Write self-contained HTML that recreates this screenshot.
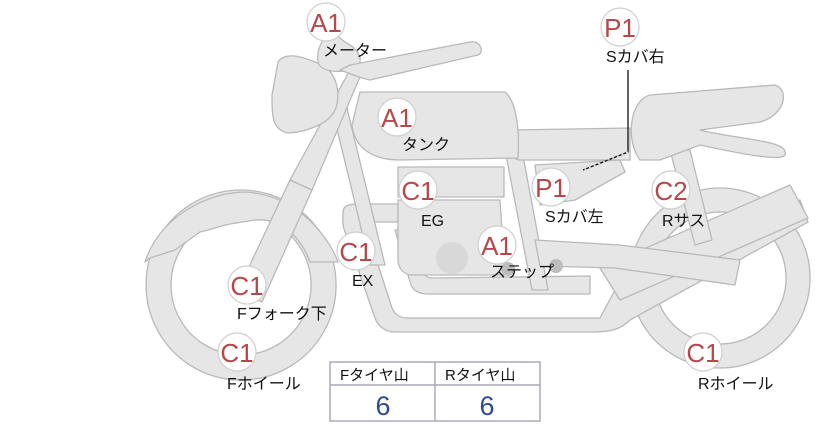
<!DOCTYPE html>
<html><head><meta charset="utf-8"><style>
body{margin:0;background:#fff;}
svg{display:block;font-family:"Liberation Sans","Noto Sans CJK JP",sans-serif;}
.s{fill:#e6e6e6;stroke:#b9b9bd;stroke-width:1.3;stroke-linejoin:round}
.c{fill:#fff;stroke:#cfcfcf;stroke-width:1.2}
.b{fill:#b8474a;font-size:26px;font-weight:300}
.l{fill:#111;font-size:16px}
</style></head><body>
<svg width="822" height="425" viewBox="0 0 822 425">
<path class="s" fill-rule="evenodd" d="M241,190a95,95 0 1,0 0.1,0z M241,215a70,70 0 1,0 0.1,0z"/>
<path class="s" d="M145,262 C160,215 210,192 245,192 C300,195 330,240 338,262 L310,262 C300,235 280,218 255,220 L230,224 C220,226 210,230 200,232 L175,250 L150,258z"/>
<path class="s" fill-rule="evenodd" d="M720,188a90,90 0 1,0 0.1,0z M720,212a66,66 0 1,0 0.1,0z"/>
<path class="s" d="M343,212 C343,205 350,204 360,204 L420,204 L420,222 L370,222 C362,222 365,232 370,240 L392,308 C395,315 400,318 408,318 L600,318 L615,290 L800,200 L808,222 L630,320 C620,330 610,332 590,332 L395,332 C385,332 378,326 375,318 L345,232 C342,225 343,218 343,212z"/>
<path class="s" d="M395,230 L410,282 C412,290 418,294 428,294 L590,294 L590,276 L432,278 C425,278 422,272 420,266 L410,230z"/>
<path class="s" d="M600,268 L790,185 L808,218 L620,300z"/>
<path class="s" d="M330,100 L345,100 L385,265 L370,265z"/>
<path class="s" d="M398,200 L500,200 L505,275 L412,275 C404,275 398,268 398,260z"/>
<rect class="s" x="398" y="167" width="106" height="30"/>
<circle cx="452" cy="258" r="16" fill="#d8d8d8"/>
<path class="s" d="M505,150 L522,150 L548,290 L532,290z"/>
<path class="s" d="M535,240 L620,245 L740,260 L735,285 L615,268 L540,266z"/>
<path class="s" d="M535,165 L620,160 L625,172 L575,200 L540,205z"/>
<path class="s" d="M670,150 L690,150 L712,240 L695,245z"/>
<path class="s" d="M512,130 L630,128 L630,160 L520,160 C512,160 510,150 512,130z"/>
<path class="s" d="M640,160 C625,140 630,100 650,95 L775,85 C790,90 785,115 760,122 L700,130 C740,140 790,140 785,155 C782,160 760,158 700,145 L660,160z"/>
<path class="s" d="M360,92 L505,92 C515,100 520,125 518,158 L400,160 C375,160 355,150 352,125z"/>
<path class="s" d="M290,180 L312,190 L262,302 L238,290z"/>
<path class="s" d="M350,70 L362,72 L312,190 L290,180z"/>
<path class="s" d="M278,62 C285,52 300,55 322,65 C340,75 340,100 335,110 C328,125 305,132 288,133 C272,130 272,115 272,95z"/>
<path class="s" d="M330,30 L345,42 C360,50 365,62 355,68 C340,74 320,72 318,62 C316,50 322,40 330,30z"/>
<path class="s" d="M340,70 L350,65 L470,42 C480,40 485,52 478,55 L370,80 L362,78z"/>
<circle cx="508" cy="269" r="7" fill="#bdbdbd"/>
<circle cx="556" cy="266" r="7" fill="#bdbdbd"/>
<path d="M628,70 L628,152 L583,170" fill="none" stroke="#111" stroke-width="1.3"/>
<path d="M628,152 L583,170" fill="none" stroke="#fff" stroke-width="1" stroke-dasharray="2,3"/>
<g>
<circle class="c" cx="326" cy="22" r="19"/><text class="b" x="326" y="32" text-anchor="middle">A1</text>
<circle class="c" cx="397" cy="117" r="19"/><text class="b" x="397" y="127" text-anchor="middle">A1</text>
<circle class="c" cx="418" cy="190" r="19"/><text class="b" x="418" y="200" text-anchor="middle">C1</text>
<circle class="c" cx="356" cy="251" r="19"/><text class="b" x="356" y="261" text-anchor="middle">C1</text>
<circle class="c" cx="497" cy="245" r="19"/><text class="b" x="497" y="255" text-anchor="middle">A1</text>
<circle class="c" cx="551" cy="187" r="19"/><text class="b" x="551" y="197" text-anchor="middle">P1</text>
<circle class="c" cx="620" cy="27" r="19"/><text class="b" x="620" y="37" text-anchor="middle">P1</text>
<circle class="c" cx="671" cy="190" r="19"/><text class="b" x="671" y="200" text-anchor="middle">C2</text>
<circle class="c" cx="247" cy="285" r="19"/><text class="b" x="247" y="295" text-anchor="middle">C1</text>
<circle class="c" cx="237" cy="352" r="19"/><text class="b" x="237" y="362" text-anchor="middle">C1</text>
<circle class="c" cx="703" cy="352" r="19"/><text class="b" x="703" y="362" text-anchor="middle">C1</text>
</g>
<g>
<text class="l" x="323" y="56">メーター</text>
<text class="l" x="402" y="150">タンク</text>
<text class="l" x="421" y="226">EG</text>
<text class="l" x="352" y="286">EX</text>
<text class="l" x="490" y="277">ステップ</text>
<text class="l" x="545" y="222">Sカバ左</text>
<text class="l" x="606" y="62">Sカバ右</text>
<text class="l" x="662" y="226">Rサス</text>
<text class="l" x="237" y="319">Fフォーク下</text>
<text class="l" x="227" y="389">Fホイール</text>
<text class="l" x="698" y="389">Rホイール</text>
</g>
<rect x="330" y="362" width="210" height="59" fill="#fff" stroke="#aab" stroke-width="1.5"/>
<line x1="330" y1="385" x2="540" y2="385" stroke="#aab" stroke-width="1.5"/>
<line x1="435" y1="362" x2="435" y2="421" stroke="#aab" stroke-width="1.5"/>
<text x="340" y="380" font-size="15" fill="#111">Fタイヤ山</text>
<text x="445" y="380" font-size="15" fill="#111">Rタイヤ山</text>
<text x="383" y="415" font-size="27" fill="#2e4a8e" text-anchor="middle">6</text>
<text x="487" y="415" font-size="27" fill="#2e4a8e" text-anchor="middle">6</text>
</svg>
</body></html>
